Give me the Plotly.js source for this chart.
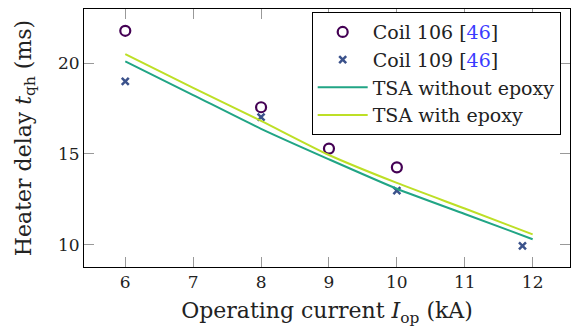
<!DOCTYPE html>
<html>
<head>
<meta charset="utf-8">
<script src="https://cdn.plot.ly/plotly-3.0.1.min.js"></script>
<style>html,body{margin:0;padding:0;background:#fff;}#chart{width:571px;height:332px;}</style>
</head>
<body>
<div id="chart"></div>
<script>
// Measured data
const coil106X = [6, 8, 9, 10];
const coil106Y = [21.78, 17.57, 15.29, 14.26];
const coil109X = [6, 8, 10, 11.85];
const coil109Y = [18.99, 17.02, 12.97, 9.93];
const tsaX = [6, 7, 8, 9, 10, 11, 12];
const tsaWithout = [20.09, 18.24, 16.38, 14.70, 13.08, 11.69, 10.30];
const tsaWith = [20.50, 18.64, 16.82, 14.94, 13.40, 11.99, 10.57];
const xTicks = [6, 7, 8, 9, 10, 11, 12];
const yTicks = [10, 15, 20];

const FONT = "DejaVu Serif";
const ref = "<span style='color:#3b3bff'>46</span>";

const traces = [
  {x: coil106X, y: coil106Y, mode: 'markers', type: 'scatter',
   name: 'Coil 106 [' + ref + ']',
   marker: {symbol: 'circle-open', size: 10, color: '#440154', line: {width: 2.2, color: '#440154'}}},
  {x: coil109X, y: coil109Y, mode: 'markers', type: 'scatter',
   name: 'Coil 109 [' + ref + ']',
   marker: {symbol: 'x-thin-open', size: 7, color: '#3b528b', line: {width: 2.5, color: '#3b528b'}}},
  {x: tsaX, y: tsaWithout, mode: 'lines', type: 'scatter',
   name: 'TSA without epoxy', line: {color: '#21a585', width: 2, shape: 'spline', smoothing: 0.6}},
  {x: tsaX, y: tsaWith, mode: 'lines', type: 'scatter',
   name: 'TSA with epoxy', line: {color: '#bddf26', width: 2, shape: 'spline', smoothing: 0.6}}
];

const layout = {
  width: 571, height: 332,
  margin: {l: 84, r: 1, t: 9, b: 65},
  paper_bgcolor: '#fff', plot_bgcolor: '#fff',
  font: {family: FONT, color: '#222', size: 17},
  showlegend: true,
  legend: {
    x: 0.4685, y: 0.988, xanchor: 'left', yanchor: 'top',
    bordercolor: '#000', borderwidth: 1, bgcolor: '#fff',
    font: {family: FONT, size: 19, color: '#222'},
    itemwidth: 50, tracegroupgap: 0
  },
  xaxis: {
    range: [5.392, 12.55], tickvals: xTicks, ticktext: xTicks.map(String),
    ticks: 'inside', ticklen: 10, tickcolor: '#999', tickwidth: 1,
    showline: true, linecolor: '#000', linewidth: 1, mirror: 'ticks',
    showgrid: false, zeroline: false,
    tickfont: {family: FONT, size: 17, color: '#222'},
    title: {text: 'Operating current <i>I</i><sub>op</sub> (kA)', font: {family: FONT, size: 22, color: '#222'}, standoff: 11}
  },
  yaxis: {
    range: [8.77, 22.98], tickvals: yTicks, ticktext: yTicks.map(String),
    ticks: 'inside', ticklen: 10, tickcolor: '#999', tickwidth: 1,
    showline: true, linecolor: '#000', linewidth: 1, mirror: 'ticks',
    showgrid: false, zeroline: false,
    tickfont: {family: FONT, size: 17, color: '#222'},
    title: {text: 'Heater delay <i>t</i><sub>qh</sub> (ms)', font: {family: FONT, size: 22, color: '#222'}, standoff: 20}
  }
};

Plotly.newPlot('chart', traces, layout, {staticPlot: true, displayModeBar: false});
</script>
</body>
</html>
